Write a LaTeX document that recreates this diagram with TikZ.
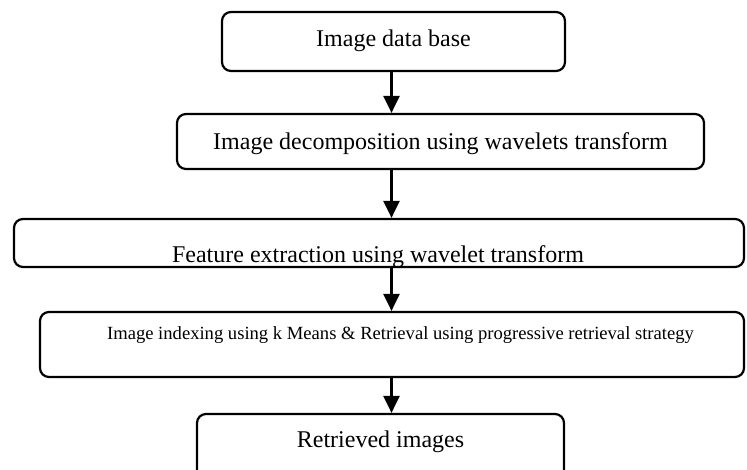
\documentclass[tikz,border=0pt]{standalone}
\usepackage{fontspec}
\setmainfont{Liberation Serif}
\usetikzlibrary{arrows.meta}

\tikzset{
  stagebox/.style={draw, line width=2.2pt, rounded corners=9pt, inner sep=0pt},
  bigtext/.style={anchor=base, inner sep=0pt, font=\fontsize{24}{27}\selectfont},
  smalltext/.style={anchor=base, inner sep=0pt, font=\fontsize{18.6}{21}\selectfont},
  flow/.style={line width=2.4pt, -{Triangle[width=16pt,length=17pt]}}
}

\begin{document}
\begin{tikzpicture}[x=1pt, y=-1pt]
  \clip (0,0) rectangle (747,470);

  % stage boxes
  \node[stagebox, minimum width=343pt, minimum height=59pt] (db)   at (393.5,41.5) {};
  \node[stagebox, minimum width=527pt, minimum height=55pt] (dec)  at (440.5,141.5) {};
  \node[stagebox, minimum width=730pt, minimum height=48pt] (feat) at (379,243) {};
  \node[stagebox, minimum width=704pt, minimum height=65pt] (idx)  at (392,344.5) {};
  \node[stagebox, minimum width=367pt, minimum height=90pt] (ret)  at (380.5,459) {};

  % captions
  \node[bigtext] (tdb)  at (393.5,47) {Image data base};
  \node[bigtext] (tdec) at (440.5,150) {Image decomposition using wavelets transform};
  \begin{scope}
    \clip ([shift={(1pt,-1pt)}]feat.north west) rectangle ([shift={(-1pt,1.5pt)}]feat.south east);
    \node[bigtext] (tfeat) at (378,262.5) {Feature extraction using wavelet transform};
  \end{scope}
  \node[smalltext] (tidx) at (400.5,339) {Image indexing using k Means \& Retrieval using progressive retrieval strategy};
  \node[bigtext] (tret) at (380.5,447) {Retrieved images};

  % connectors
  \coordinate (ax) at (391.5,0);
  \draw[flow] (db.south -| ax)   -- (dec.north -| ax);
  \draw[flow] (dec.south -| ax)  -- (feat.north -| ax);
  \draw[flow] (feat.south -| ax) -- (idx.north -| ax);
  \draw[flow] (idx.south -| ax)  -- (ret.north -| ax);
\end{tikzpicture}
\end{document}
